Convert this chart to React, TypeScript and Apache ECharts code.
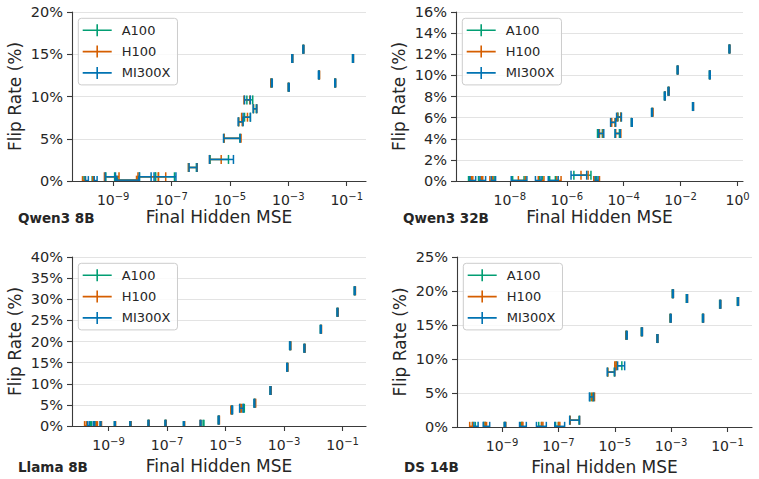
import React, { useEffect, useRef } from 'react';
import * as echarts from 'echarts';

const GPUS = ['A100', 'H100', 'MI300X'];
const GPU_COLORS = ['#029e73', '#d55e00', '#0173b2'];

const panelNames = ['Qwen3 8B', 'Qwen3 32B', 'Llama 8B', 'DS 14B'];
const xTickExponents = [
  [-9, -7, -5, -3, -1],
  [-8, -6, -4, -2, 0],
  [-9, -7, -5, -3, -1],
  [-9, -7, -5, -3, -1],
];
const xLogMin = [-10.41, -9.89, -10.25, -10.6];
const xLogMax = [-0.34, 0.19, -0.2, -0.13];
const yMax = [20, 16, 40, 25];
const yStep = [5, 2, 5, 5];

// ---- Qwen3 8B: flip rate (%) and log10(final hidden MSE) [low, high] per GPU
const qwen8Flip = [0.05, 0.05, 0.5, 0.5, 0.5, 0.1, 1.6, 2.55, 5.05, 7.0, 7.55, 8.55, 9.6, 11.6, 11.1, 14.5, 15.6, 12.55, 11.6, 14.5];
const qwen8A100 = [[-10.0, -9.96], [-9.72, -9.68], [-9.25, -8.95], [-8.1, -7.55], [-7.55, -6.9], [-8.85, -8.15], [-6.42, -6.15], [-5.68, -5.05], [-5.2, -4.66], [-4.7, -4.56], [-4.5, -4.3], [-4.2, -4.1], [-4.42, -4.22], [-3.6, -3.57], [-3.0, -2.98], [-2.88, -2.86], [-2.5, -2.48], [-1.96, -1.94], [-1.41, -1.39], [-0.8, -0.78]];
const qwen8H100 = [[-10.05, -9.95], [-9.7, -9.65], [-9.3, -8.8], [-8.15, -7.45], [-7.45, -7.2], [-8.9, -8.2], [-6.42, -6.12], [-5.7, -5.3], [-5.2, -4.62], [-4.7, -4.58], [-4.6, -4.4], [-4.19, -4.08], [-4.52, -4.32], [-3.6, -3.56], [-3.0, -2.97], [-2.87, -2.85], [-2.49, -2.47], [-1.95, -1.93], [-1.4, -1.38], [-0.79, -0.77]];
const qwen8MI300X = [[-9.95, -9.85], [-9.65, -9.55], [-9.27, -8.92], [-8.1, -7.7], [-7.6, -6.85], [-8.88, -8.12], [-6.4, -6.13], [-5.7, -4.88], [-5.22, -4.65], [-4.72, -4.55], [-4.55, -4.3], [-4.2, -4.08], [-4.5, -4.3], [-3.58, -3.55], [-3.0, -2.97], [-2.88, -2.85], [-2.5, -2.47], [-1.97, -1.94], [-1.41, -1.38], [-0.8, -0.77]];

// ---- Qwen3 32B
const qwen32Flip = [0.05, 0.05, 0.05, 0.05, 0.05, 0.05, 0.55, 0.05, 4.5, 4.5, 5.55, 6.05, 5.55, 6.5, 8.05, 8.5, 10.5, 7.05, 10.05, 12.5];
const qwen32A100 = [[-9.45, -9.4], [-9.1, -9.0], [-8.6, -8.55], [-7.9, -7.5], [-6.95, -6.85], [-6.6, -6.4], [-5.75, -5.15], [-5.05, -4.95], [-4.92, -4.75], [-4.3, -4.15], [-4.45, -4.3], [-4.2, -4.1], [-3.73, -3.71], [-3.02, -3.0], [-2.57, -2.55], [-2.44, -2.42], [-2.12, -2.1], [-1.58, -1.56], [-0.99, -0.97], [-0.3, -0.28]];
const qwen32H100 = [[-9.35, -9.3], [-9.0, -8.95], [-8.7, -8.6], [-7.7, -7.45], [-7.0, -6.8], [-6.35, -6.2], [-5.5, -5.25], [-5.05, -4.85], [-4.85, -4.72], [-4.28, -4.1], [-4.42, -4.3], [-4.22, -4.1], [-3.72, -3.7], [-2.99, -2.97], [-2.56, -2.54], [-2.43, -2.4], [-2.11, -2.09], [-1.57, -1.55], [-0.98, -0.96], [-0.29, -0.27]];
const qwen32MI300X = [[-9.4, -9.2], [-9.05, -8.85], [-8.65, -8.5], [-7.95, -7.4], [-7.1, -6.9], [-6.65, -6.3], [-5.85, -5.3], [-5.0, -4.9], [-4.88, -4.7], [-4.3, -4.12], [-4.46, -4.28], [-4.25, -4.08], [-3.73, -3.7], [-3.02, -2.99], [-2.57, -2.54], [-2.44, -2.41], [-2.12, -2.09], [-1.58, -1.55], [-0.99, -0.96], [-0.3, -0.27]];

// ---- Llama 8B
const llamaFlip = [0.1, 0.1, 0.1, 0.1, 0.1, 0.4, 0.4, 0.1, 0.4, 1.4, 3.8, 4.2, 5.4, 8.4, 13.9, 19.0, 18.4, 22.9, 26.9, 32.0];
const llamaA100 = [[-9.62, -9.58], [-9.5, -9.46], [-9.28, -9.25], [-8.8, -8.77], [-8.27, -8.24], [-7.65, -7.62], [-7.07, -7.04], [-6.44, -6.41], [-5.77, -5.74], [-5.25, -5.22], [-4.8, -4.77], [-4.4, -4.36], [-4.02, -3.99], [-3.48, -3.45], [-2.91, -2.88], [-2.81, -2.78], [-2.32, -2.29], [-1.76, -1.73], [-1.19, -1.16], [-0.6, -0.57]];
const llamaH100 = [[-9.82, -9.76], [-9.42, -9.38], [-9.27, -9.24], [-8.79, -8.76], [-8.26, -8.23], [-7.64, -7.61], [-7.06, -7.03], [-6.43, -6.4], [-5.87, -5.84], [-5.24, -5.21], [-4.82, -4.78], [-4.5, -4.46], [-4.01, -3.97], [-3.47, -3.44], [-2.9, -2.87], [-2.8, -2.77], [-2.31, -2.28], [-1.75, -1.72], [-1.18, -1.15], [-0.59, -0.56]];
const llamaMI300X = [[-9.72, -9.66], [-9.52, -9.48], [-9.29, -9.26], [-8.8, -8.77], [-8.27, -8.24], [-7.65, -7.62], [-7.07, -7.04], [-6.44, -6.41], [-5.87, -5.84], [-5.25, -5.22], [-4.79, -4.76], [-4.52, -4.4], [-4.03, -4.0], [-3.48, -3.45], [-2.91, -2.88], [-2.81, -2.78], [-2.32, -2.29], [-1.76, -1.73], [-1.19, -1.16], [-0.6, -0.57]];

// ---- DS 14B
const dsFlip = [0.1, 0.1, 0.1, 0.1, 0.1, 0.1, 1.0, 4.43, 8.07, 9.0, 13.5, 14.0, 13.0, 19.6, 16.0, 18.9, 16.0, 18.05, 18.45];
const dsA100 = [[-10.05, -9.95], [-9.65, -9.6], [-8.92, -8.88], [-8.35, -8.3], [-7.7, -7.6], [-7.1, -7.0], [-6.6, -6.27], [-5.88, -5.78], [-5.25, -5.02], [-4.95, -4.75], [-4.61, -4.58], [-4.06, -4.03], [-3.51, -3.48], [-2.96, -2.93], [-3.04, -3.01], [-2.46, -2.43], [-1.89, -1.86], [-1.28, -1.25], [-0.65, -0.62]];
const dsH100 = [[-10.15, -10.05], [-9.6, -9.55], [-8.91, -8.87], [-8.3, -8.26], [-7.6, -7.55], [-7.0, -6.95], [-6.58, -6.25], [-5.82, -5.72], [-5.25, -5.0], [-5.0, -4.95], [-4.6, -4.57], [-4.05, -4.02], [-3.5, -3.47], [-2.95, -2.92], [-3.03, -3.0], [-2.45, -2.42], [-1.88, -1.85], [-1.27, -1.24], [-0.64, -0.61]];
const dsMI300X = [[-10.0, -9.85], [-9.67, -9.44], [-8.92, -8.88], [-8.38, -8.14], [-7.78, -7.43], [-7.13, -6.78], [-6.6, -6.25], [-5.9, -5.75], [-5.27, -5.0], [-4.9, -4.65], [-4.59, -4.56], [-4.05, -4.02], [-3.5, -3.47], [-2.95, -2.92], [-3.03, -3.0], [-2.45, -2.42], [-1.88, -1.85], [-1.27, -1.24], [-0.64, -0.61]];

const panelFlips = [qwen8Flip, qwen32Flip, llamaFlip, dsFlip];
const panelMse = [
  [qwen8A100, qwen8H100, qwen8MI300X],
  [qwen32A100, qwen32H100, qwen32MI300X],
  [llamaA100, llamaH100, llamaMI300X],
  [dsA100, dsH100, dsMI300X],
];

const grids = [
  { left: 72, top: 12, width: 294, height: 169 },
  { left: 456, top: 12, width: 287, height: 169 },
  { left: 72, top: 257, width: 294, height: 169 },
  { left: 457, top: 257, width: 295, height: 170 },
];
const nameGaps = [27, 27, 31, 31];
const titlePos = [
  { left: 18, top: 210.5 },
  { left: 403, top: 210.5 },
  { left: 18, top: 459.5 },
  { left: 404, top: 459.5 },
];

const FONT = 'DejaVu Sans';
const TEXT = '#262626';
const AXIS = '#3a3a3a';

export default function App() {
  const ref = useRef<HTMLDivElement>(null);
  useEffect(() => {
    if (!ref.current) return;
    const chart = echarts.init(ref.current, null, { renderer: 'svg' });

    const xAxis: any[] = [];
    const yAxis: any[] = [];
    const legend: any[] = [];
    const series: any[] = [];

    grids.forEach((g, i) => {
      xAxis.push({
        type: 'value',
        gridIndex: i,
        min: xLogMin[i],
        max: xLogMax[i],
        name: 'Final Hidden MSE',
        nameLocation: 'middle',
        nameGap: nameGaps[i],
        nameTextStyle: { fontFamily: FONT, fontSize: 17, color: TEXT, lineHeight: 18 },
        splitLine: { show: false },
        axisLine: { onZero: false, lineStyle: { color: AXIS, width: 1.1 } },
        axisTick: { show: true, customValues: xTickExponents[i], length: 5, lineStyle: { color: AXIS, width: 1.1 } },
        axisLabel: {
          customValues: xTickExponents[i],
          margin: 10,
          formatter: (v: number) => `{b|10}{s|${v === 0 ? '0' : '\u2212' + Math.abs(v)}}`,
          rich: {
            b: { fontFamily: FONT, fontSize: 14, color: TEXT, lineHeight: 16, verticalAlign: 'bottom' },
            s: { fontFamily: FONT, fontSize: 10, color: TEXT, lineHeight: 10, verticalAlign: 'top' },
          },
        },
      });
      yAxis.push({
        type: 'value',
        gridIndex: i,
        min: 0,
        max: yMax[i],
        interval: yStep[i],
        name: 'Flip Rate (%)',
        nameLocation: 'middle',
        nameGap: 49,
        nameTextStyle: { fontFamily: FONT, fontSize: 17, color: TEXT },
        axisLine: { show: true, onZero: false, lineStyle: { color: AXIS, width: 1.1 } },
        axisTick: { show: true, length: 5, lineStyle: { color: AXIS, width: 1.1 } },
        axisLabel: { formatter: '{value}%', fontFamily: FONT, fontSize: 14.5, color: TEXT, margin: 9 },
        splitLine: { show: true, lineStyle: { color: '#e3e3e3', width: 1 } },
      });
      legend.push({
        orient: 'vertical',
        left: g.left + 6.3,
        top: g.top + 6.3,
        itemWidth: 29,
        itemHeight: 12,
        itemGap: 8.3,
        padding: [5.5, 7, 5.5, 4.4],
        backgroundColor: 'rgba(255,255,255,0.8)',
        borderColor: '#cccccc',
        borderWidth: 1,
        borderRadius: 3,
        selectedMode: false,
        icon: 'path://M0,5.2H29V6.8H0Z M13.7,0H15.3V12H13.7Z',
        textStyle: { fontFamily: FONT, fontSize: 13, color: TEXT, padding: [0, 0, 0, 5] },
        data: GPUS,
      });
      GPUS.forEach((gpu, gi) => {
        const color = GPU_COLORS[gi];
        const mse = panelMse[i][gi];
        series.push({
          type: 'custom',
          name: gpu,
          xAxisIndex: i,
          yAxisIndex: i,
          clip: true,
          itemStyle: { color },
          encode: { x: [0, 1], y: 2 },
          data: panelFlips[i].map((y, k) => [mse[k][0], mse[k][1], y]),
          renderItem: (_p: any, api: any) => {
            const lo = api.value(0);
            const hi = api.value(1);
            const y = api.value(2);
            const a = api.coord([lo, y]);
            const b = api.coord([hi, y]);
            const h = 4.5;
            const st = { stroke: color, lineWidth: 1.5, fill: null };
            return {
              type: 'group',
              children: [
                { type: 'line', shape: { x1: a[0], y1: a[1], x2: b[0], y2: b[1] }, style: st },
                { type: 'line', shape: { x1: a[0], y1: a[1] - h, x2: a[0], y2: a[1] + h }, style: st },
                { type: 'line', shape: { x1: b[0], y1: b[1] - h, x2: b[0], y2: b[1] + h }, style: st },
              ],
            };
          },
        });
      });
    });

    chart.setOption({
      animation: false,
      backgroundColor: '#ffffff',
      grid: grids,
      title: panelNames.map((t, i) => ({
        text: t,
        left: titlePos[i].left,
        top: titlePos[i].top,
        padding: 0,
        textStyle: { fontFamily: FONT, fontSize: 13.5, fontWeight: 'bold', color: TEXT },
      })),
      legend,
      xAxis,
      yAxis,
      series,
    });
    return () => chart.dispose();
  }, []);
  return <div ref={ref} style={{ position: 'fixed', left: 0, top: 0, width: 759, height: 479 }} />;
}
